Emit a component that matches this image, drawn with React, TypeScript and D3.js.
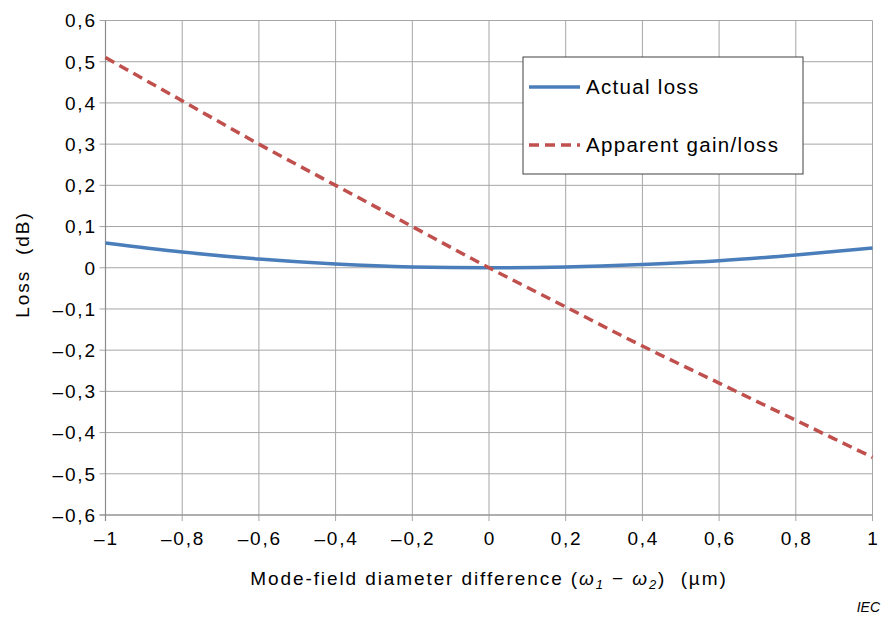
import React from "react";
import * as d3 from "d3";

const xValues = [-1, -0.8, -0.6, -0.4, -0.2, 0, 0.2, 0.4, 0.6, 0.8, 1];
const actualLoss = [0.06, 0.038, 0.021, 0.009, 0.002, 0, 0.002, 0.008, 0.017, 0.031, 0.048];
const apparentLoss = [0.51, 0.405, 0.3, 0.2, 0.1, 0, -0.095, -0.19, -0.28, -0.37, -0.46];
const xTicks = [-1, -0.8, -0.6, -0.4, -0.2, 0, 0.2, 0.4, 0.6, 0.8, 1];
const yTicks = [-0.6, -0.5, -0.4, -0.3, -0.2, -0.1, 0, 0.1, 0.2, 0.3, 0.4, 0.5, 0.6];

const fmt = (v: number) => {
  const r = Math.round(v * 10) / 10;
  if (r === 0) return "0";
  const s = Math.abs(r).toString().replace(".", ",");
  return r < 0 ? "\u2013" + s : s;
};

export default function App() {
  const W = 895, H = 619;
  const x = d3.scaleLinear().domain([-1, 1]).range([105.5, 872.5]);
  const y = d3.scaleLinear().domain([-0.6, 0.6]).range([515, 20.5]);
  const line = d3.line<number>().x((_, i) => x(xValues[i])).y((d) => y(d)).curve(d3.curveMonotoneX);
  const font = "'Liberation Sans', Arial, Helvetica, sans-serif";
  const blue = "#4a7ebb";
  const red = "#c0504d";
  const tickLS = 1.8;
  return (
    <svg width={W} height={H} style={{ position: "absolute", left: 0, top: 0 }} fontFamily={font}>
      <rect width={W} height={H} fill="#fff" />
      {xTicks.map((t) => (
        <line key={"gx" + t} x1={x(t)} x2={x(t)} y1={y(0.6)} y2={y(-0.6) + 6} stroke="#a6a6a6" strokeWidth={1} />
      ))}
      {yTicks.map((t) => (
        <line key={"gy" + t} x1={x(-1) - 6} x2={x(1)} y1={y(t)} y2={y(t)} stroke="#a6a6a6" strokeWidth={1} />
      ))}
      <line x1={x(-1)} x2={x(-1)} y1={y(0.6)} y2={y(-0.6) + 6} stroke="#8c8c8c" strokeWidth={1.2} />
      <line x1={x(-1) - 6} x2={x(1)} y1={y(-0.6)} y2={y(-0.6)} stroke="#8c8c8c" strokeWidth={1.2} />
      {yTicks.map((t) => (
        <text key={"ty" + t} x={95 + tickLS} y={y(t)} dy="0.36em" textAnchor="end" fontSize={19} letterSpacing={tickLS} fill="#000">
          {fmt(t)}
        </text>
      ))}
      {xTicks.map((t) => (
        <text key={"tx" + t} x={x(t) + tickLS / 2} y={545} textAnchor="middle" fontSize={19} letterSpacing={tickLS} fill="#000">
          {fmt(t)}
        </text>
      ))}
      <path d={line(actualLoss) || ""} fill="none" stroke={blue} strokeWidth={3.5} />
      <path d={line(apparentLoss) || ""} fill="none" stroke={red} strokeWidth={3.5} strokeDasharray="10,6" />
      <rect x={523} y={57} width={280} height={117} fill="#fff" stroke="#404040" strokeWidth={1} />
      <line x1={529} x2={580} y1={87} y2={87} stroke={blue} strokeWidth={3.5} />
      <line x1={529} x2={580} y1={145} y2={145} stroke={red} strokeWidth={3.5} strokeDasharray="10,6" />
      <text x={586} y={87} dy="0.36em" fontSize={20.5} letterSpacing={1.3} fill="#000">Actual loss</text>
      <text x={586} y={145} dy="0.36em" fontSize={20.5} letterSpacing={1.3} fill="#000">Apparent gain/loss</text>
      <text x={489} y={585} textAnchor="middle" fontSize={19} letterSpacing={1.9} fill="#000" xmlSpace="preserve">
        <tspan>Mode-field diameter difference (</tspan>
        <tspan fontStyle="italic">ω</tspan>
        <tspan fontStyle="italic" fontSize={13} dy={4}>1</tspan>
        <tspan dy={-4}> − </tspan>
        <tspan fontStyle="italic">ω</tspan>
        <tspan fontStyle="italic" fontSize={13} dy={4}>2</tspan>
        <tspan dy={-4}>)  (µm)</tspan>
      </text>
      <text transform={`translate(29,${264.5}) rotate(-90)`} textAnchor="middle" fontSize={19} letterSpacing={2} fill="#000" xmlSpace="preserve">
        Loss  (dB)
      </text>
      <text x={880} y={612} textAnchor="end" fontSize={14} fontStyle="italic" fill="#000">IEC</text>
    </svg>
  );
}
